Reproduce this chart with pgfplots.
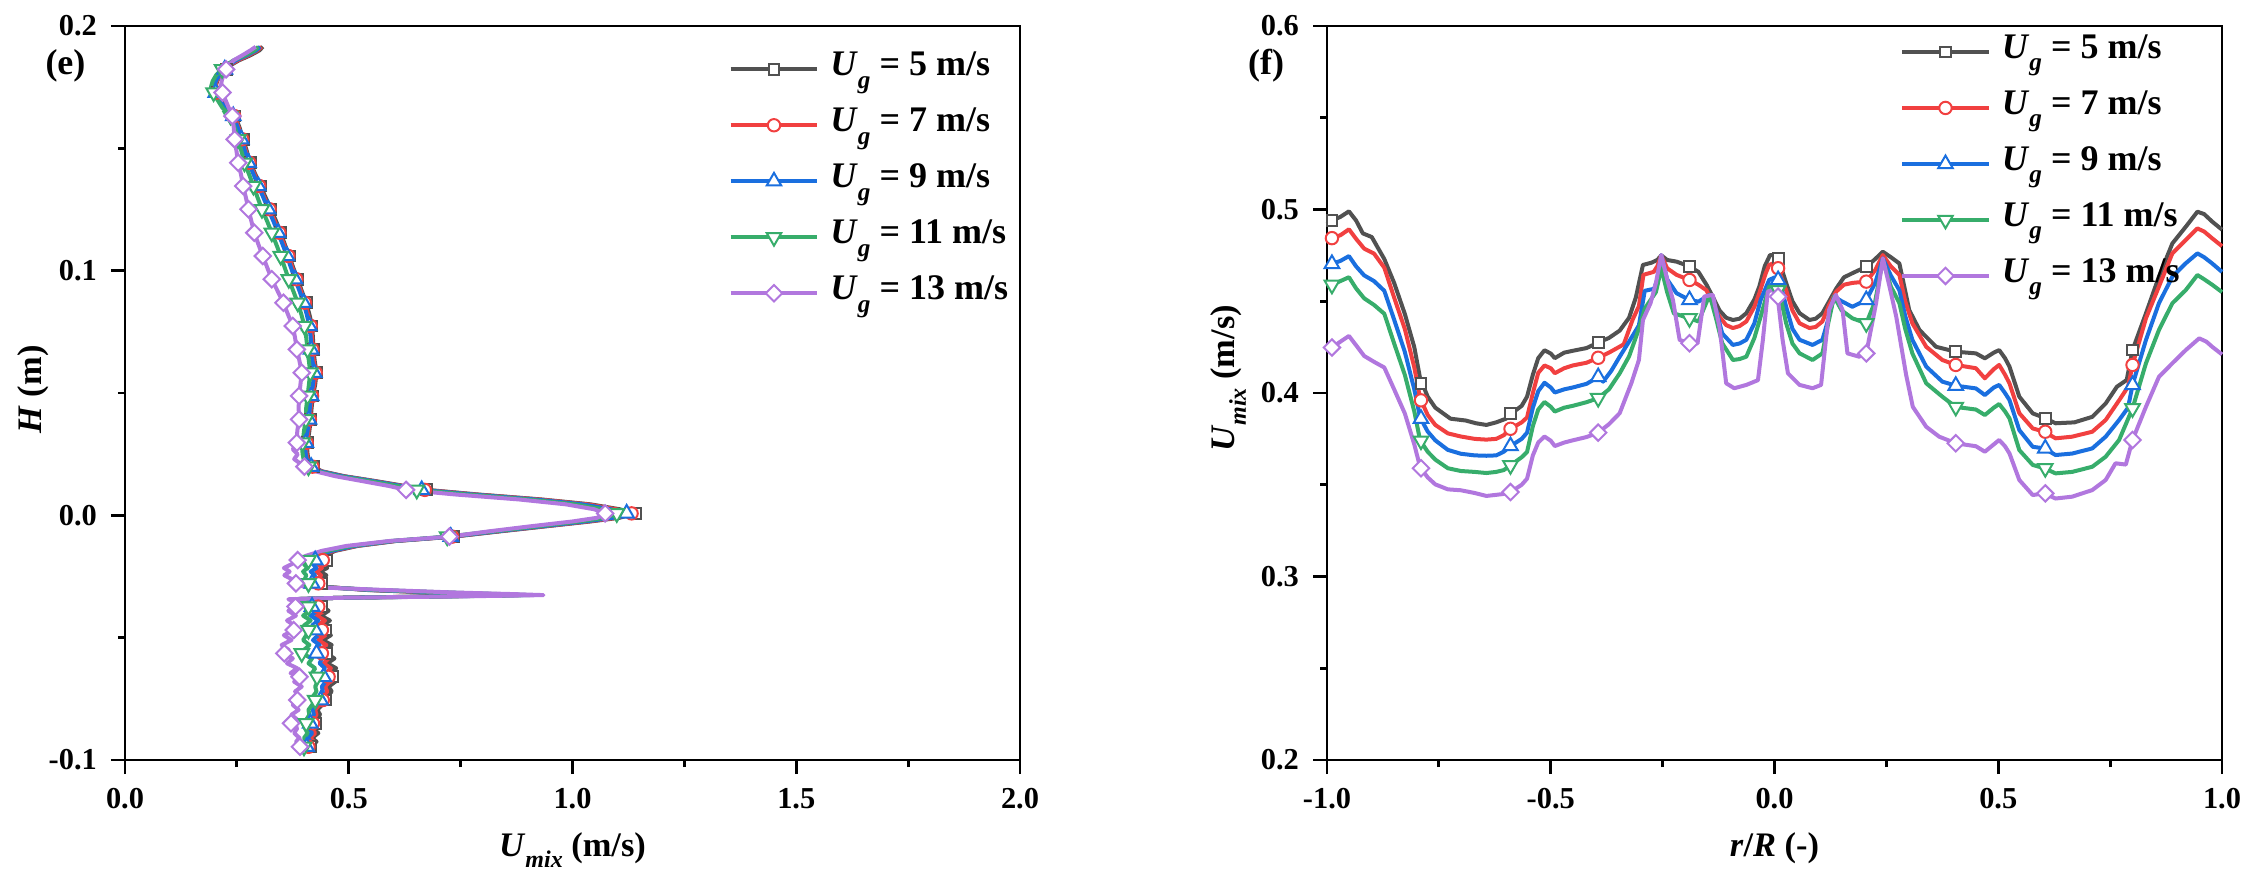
\documentclass[border=0pt]{standalone}
\usepackage{fontspec}
\setmainfont{Liberation Serif}
\usepackage{pgfplots}
\usepackage{pgfplotstable}
\pgfplotsset{compat=1.18}
\definecolor{c5}{HTML}{515151}
\definecolor{c7}{HTML}{F14040}
\definecolor{c9}{HTML}{1A6FDF}
\definecolor{c11}{HTML}{37AD6B}
\definecolor{c13}{HTML}{B177DE}
\newcommand\subL[1]{\raisebox{-3.1pt}{\fontsize{6.3pt}{6.3pt}\selectfont\textit{#1}}}
\newcommand\subA[1]{\raisebox{-2.9pt}{\fontsize{6.0pt}{6.0pt}\selectfont\textit{#1}}}

\pgfplotstableread{
H u5 u7 u9 u11 u13 m
0.1915 0.308 0.305 0.302 0.298 0.292 0
0.1900 0.300 0.296 0.293 0.289 0.280 0
0.1880 0.280 0.276 0.272 0.268 0.262 0
0.1860 0.255 0.252 0.248 0.243 0.243 0
0.1840 0.236 0.234 0.232 0.226 0.232 0
0.1823 0.226 0.225 0.223 0.217 0.226 1
0.1800 0.214 0.213 0.211 0.204 0.220 0
0.1775 0.206 0.205 0.203 0.196 0.216 0
0.1750 0.202 0.201 0.199 0.192 0.214 0
0.1728 0.206 0.205 0.203 0.198 0.218 1
0.1700 0.214 0.213 0.211 0.206 0.224 0
0.1665 0.227 0.226 0.224 0.218 0.232 0
0.1632 0.246 0.244 0.242 0.236 0.240 1
0.1585 0.256 0.254 0.252 0.245 0.243 0
0.1537 0.264 0.262 0.260 0.253 0.245 1
0.1490 0.272 0.270 0.268 0.260 0.249 0
0.1441 0.280 0.278 0.276 0.267 0.253 1
0.1395 0.291 0.289 0.287 0.277 0.259 0
0.1346 0.303 0.300 0.298 0.287 0.264 1
0.1300 0.314 0.311 0.309 0.296 0.270 0
0.1251 0.326 0.323 0.320 0.306 0.276 1
0.1205 0.337 0.334 0.331 0.317 0.282 0
0.1155 0.348 0.345 0.342 0.328 0.289 1
0.1108 0.357 0.355 0.352 0.338 0.298 0
0.1060 0.367 0.365 0.362 0.348 0.308 1
0.1012 0.376 0.374 0.371 0.357 0.318 0
0.0965 0.386 0.383 0.380 0.366 0.328 1
0.0917 0.395 0.393 0.390 0.376 0.341 0
0.0869 0.405 0.402 0.399 0.386 0.354 1
0.0822 0.412 0.409 0.406 0.394 0.364 0
0.0774 0.418 0.415 0.412 0.401 0.375 1
0.0726 0.420 0.418 0.415 0.405 0.380 0
0.0678 0.421 0.419 0.416 0.408 0.384 1
0.0630 0.424 0.422 0.419 0.411 0.390 0
0.0583 0.428 0.426 0.423 0.414 0.395 1
0.0535 0.425 0.423 0.420 0.411 0.392 0
0.0488 0.420 0.418 0.416 0.408 0.389 1
0.0440 0.417 0.415 0.413 0.405 0.388 0
0.0392 0.415 0.413 0.411 0.404 0.389 1
0.0345 0.412 0.410 0.408 0.400 0.385 0
0.0297 0.408 0.406 0.404 0.397 0.384 1
0.0270 0.407 0.405 0.403 0.396 0.375 0
0.0250 0.408 0.406 0.404 0.397 0.386 0
0.0230 0.410 0.408 0.406 0.399 0.378 0
0.0199 0.421 0.419 0.416 0.410 0.401 1
0.0180 0.440 0.438 0.436 0.430 0.425 0
0.0160 0.490 0.487 0.485 0.478 0.470 0
0.0140 0.560 0.556 0.553 0.545 0.530 0
0.0120 0.625 0.621 0.617 0.608 0.590 0
0.0104 0.674 0.670 0.663 0.652 0.628 1
0.0085 0.790 0.785 0.778 0.765 0.740 0
0.0065 0.930 0.925 0.915 0.900 0.880 0
0.0045 1.040 1.033 1.022 1.005 0.985 0
0.0025 1.105 1.097 1.085 1.068 1.048 0
0.0008 1.140 1.132 1.121 1.099 1.073 1
-0.0010 1.105 1.098 1.090 1.075 1.055 0
-0.0025 1.040 1.035 1.028 1.015 1.000 0
-0.0045 0.940 0.935 0.930 0.920 0.905 0
-0.0065 0.840 0.836 0.832 0.825 0.815 0
-0.0087 0.734 0.731 0.728 0.720 0.725 1
-0.0105 0.605 0.602 0.599 0.594 0.590 0
-0.0125 0.520 0.517 0.513 0.505 0.495 0
-0.0145 0.470 0.466 0.462 0.452 0.440 0
-0.0165 0.445 0.440 0.434 0.422 0.405 0
-0.0183 0.450 0.442 0.425 0.410 0.386 1
-0.0200 0.440 0.432 0.420 0.400 0.372 0
-0.0215 0.452 0.440 0.428 0.408 0.355 0
-0.0230 0.436 0.428 0.415 0.398 0.368 0
-0.0245 0.450 0.438 0.425 0.405 0.356 0
-0.0260 0.440 0.430 0.420 0.402 0.372 0
-0.0278 0.440 0.432 0.418 0.410 0.382 1
-0.0292 0.445 0.440 0.432 0.425 0.400 0
-0.0305 0.540 0.545 0.550 0.560 0.580 0
-0.0315 0.680 0.690 0.700 0.715 0.730 0
-0.0322 0.800 0.810 0.820 0.840 0.870 0
-0.0326 0.870 0.880 0.890 0.905 0.935 0
-0.0331 0.700 0.710 0.720 0.735 0.760 0
-0.0337 0.480 0.480 0.480 0.480 0.480 0
-0.0343 0.375 0.372 0.370 0.368 0.365 0
-0.0355 0.430 0.420 0.415 0.405 0.385 0
-0.0373 0.440 0.432 0.418 0.410 0.381 1
-0.0390 0.455 0.445 0.430 0.412 0.365 0
-0.0410 0.438 0.428 0.415 0.398 0.382 0
-0.0430 0.458 0.447 0.432 0.415 0.362 0
-0.0450 0.440 0.430 0.418 0.400 0.378 0
-0.0469 0.449 0.440 0.425 0.410 0.377 1
-0.0490 0.460 0.448 0.432 0.405 0.355 0
-0.0510 0.442 0.432 0.420 0.398 0.372 0
-0.0530 0.462 0.450 0.435 0.412 0.350 0
-0.0550 0.445 0.436 0.425 0.400 0.366 0
-0.0564 0.450 0.440 0.428 0.395 0.356 1
-0.0585 0.468 0.455 0.440 0.418 0.375 0
-0.0605 0.452 0.444 0.435 0.410 0.362 0
-0.0625 0.472 0.460 0.447 0.425 0.385 0
-0.0645 0.458 0.450 0.440 0.418 0.370 0
-0.0660 0.464 0.455 0.444 0.429 0.390 1
-0.0680 0.470 0.458 0.448 0.430 0.378 0
-0.0700 0.455 0.447 0.440 0.425 0.395 0
-0.0720 0.462 0.452 0.442 0.428 0.380 0
-0.0740 0.450 0.443 0.437 0.420 0.392 0
-0.0755 0.449 0.442 0.437 0.425 0.385 1
-0.0775 0.440 0.434 0.428 0.418 0.375 0
-0.0795 0.430 0.425 0.420 0.410 0.388 0
-0.0815 0.436 0.428 0.422 0.412 0.372 0
-0.0835 0.425 0.420 0.415 0.405 0.385 0
-0.0850 0.425 0.420 0.414 0.405 0.371 1
-0.0870 0.420 0.416 0.410 0.402 0.385 0
-0.0890 0.432 0.425 0.418 0.408 0.378 0
-0.0910 0.418 0.414 0.408 0.400 0.390 0
-0.0925 0.428 0.422 0.415 0.405 0.382 0
-0.0946 0.414 0.410 0.406 0.400 0.391 1
-0.0955 0.410 0.407 0.403 0.398 0.392 0
}\tabL

\pgfplotstableread{
r U
-1.000 0.492
-0.989 0.494
-0.970 0.496
-0.951 0.499
-0.935 0.494
-0.920 0.487
-0.900 0.485
-0.872 0.473
-0.850 0.460
-0.826 0.443
-0.805 0.425
-0.792 0.408
-0.775 0.398
-0.758 0.392
-0.724 0.386
-0.690 0.385
-0.667 0.3835
-0.644 0.3826
-0.622 0.384
-0.600 0.386
-0.587 0.389
-0.565 0.393
-0.553 0.398
-0.540 0.410
-0.528 0.419
-0.514 0.4233
-0.500 0.4215
-0.491 0.419
-0.470 0.422
-0.451 0.423
-0.420 0.4245
-0.394 0.4275
-0.370 0.430
-0.346 0.434
-0.325 0.441
-0.310 0.452
-0.294 0.4698
-0.275 0.471
-0.262 0.4725
-0.253 0.475
-0.240 0.4725
-0.219 0.4716
-0.190 0.469
-0.170 0.466
-0.152 0.459
-0.137 0.452
-0.123 0.445
-0.108 0.441
-0.093 0.4398
-0.078 0.4405
-0.063 0.4435
-0.045 0.451
-0.034 0.458
-0.022 0.469
-0.010 0.4752
0.000 0.4752
0.010 0.4725
0.018 0.466
0.026 0.460
0.040 0.450
0.056 0.4435
0.078 0.4398
0.092 0.4405
0.107 0.4435
0.122 0.450
0.138 0.457
0.155 0.463
0.174 0.4653
0.205 0.4688
0.225 0.473
0.242 0.477
0.260 0.474
0.279 0.4706
0.290 0.458
0.301 0.4452
0.324 0.4343
0.361 0.4252
0.405 0.4225
0.450 0.4216
0.470 0.4189
0.490 0.422
0.502 0.4234
0.515 0.419
0.525 0.4144
0.547 0.398
0.577 0.3889
0.606 0.3862
0.628 0.3835
0.670 0.384
0.710 0.387
0.740 0.3943
0.765 0.4034
0.787 0.4071
0.800 0.4234
0.830 0.4434
0.859 0.4634
0.889 0.4815
0.919 0.4906
0.945 0.4988
0.960 0.4975
0.978 0.4934
1.000 0.489
}\tabRa

\pgfplotstableread{
r U
-1.000 0.483
-0.989 0.4844
-0.970 0.486
-0.951 0.4892
-0.935 0.484
-0.917 0.4787
-0.895 0.476
-0.872 0.4683
-0.850 0.452
-0.826 0.4348
-0.805 0.414
-0.792 0.3972
-0.775 0.388
-0.758 0.3826
-0.730 0.378
-0.701 0.3763
-0.670 0.375
-0.644 0.3746
-0.622 0.375
-0.605 0.377
-0.590 0.3805
-0.565 0.384
-0.553 0.3867
-0.540 0.400
-0.528 0.411
-0.514 0.415
-0.500 0.4135
-0.491 0.4108
-0.470 0.4135
-0.451 0.415
-0.420 0.4165
-0.394 0.4192
-0.370 0.422
-0.337 0.4265
-0.317 0.440
-0.303 0.4474
-0.293 0.4644
-0.270 0.466
-0.262 0.469
-0.253 0.475
-0.240 0.468
-0.219 0.4644
-0.190 0.4616
-0.170 0.459
-0.152 0.456
-0.137 0.448
-0.123 0.4416
-0.108 0.437
-0.093 0.4354
-0.078 0.4365
-0.063 0.439
-0.045 0.447
-0.034 0.4544
-0.020 0.465
-0.012 0.4698
-0.002 0.4707
0.008 0.468
0.018 0.461
0.026 0.456
0.040 0.445
0.056 0.438
0.078 0.4354
0.092 0.436
0.107 0.439
0.122 0.448
0.138 0.4553
0.155 0.459
0.174 0.460
0.205 0.4607
0.225 0.467
0.242 0.4752
0.260 0.469
0.279 0.4644
0.292 0.450
0.308 0.438
0.339 0.4252
0.375 0.418
0.405 0.4153
0.450 0.4135
0.470 0.408
0.490 0.413
0.502 0.4153
0.515 0.410
0.525 0.4053
0.547 0.389
0.577 0.3807
0.603 0.3789
0.628 0.3753
0.665 0.3762
0.710 0.3789
0.740 0.3853
0.770 0.396
0.790 0.4034
0.800 0.4153
0.830 0.4407
0.859 0.458
0.889 0.4761
0.919 0.4834
0.945 0.4897
0.960 0.488
0.978 0.4843
1.000 0.480
}\tabRb

\pgfplotstableread{
r U
-1.000 0.469
-0.989 0.4704
-0.970 0.472
-0.951 0.4746
-0.935 0.469
-0.917 0.4641
-0.895 0.461
-0.872 0.4557
-0.850 0.440
-0.826 0.4223
-0.805 0.402
-0.792 0.3867
-0.775 0.379
-0.758 0.3742
-0.730 0.369
-0.701 0.3669
-0.670 0.366
-0.644 0.3658
-0.622 0.366
-0.605 0.368
-0.590 0.3711
-0.565 0.375
-0.553 0.3784
-0.540 0.392
-0.528 0.401
-0.514 0.4056
-0.500 0.403
-0.491 0.4003
-0.470 0.402
-0.451 0.403
-0.420 0.405
-0.394 0.4087
-0.383 0.4062
-0.365 0.412
-0.346 0.4198
-0.325 0.428
-0.303 0.4369
-0.290 0.4557
-0.269 0.4568
-0.262 0.462
-0.253 0.4752
-0.240 0.462
-0.219 0.4544
-0.190 0.4507
-0.170 0.4498
-0.145 0.4535
-0.130 0.445
-0.117 0.4325
-0.093 0.4262
-0.078 0.427
-0.063 0.429
-0.045 0.438
-0.031 0.4507
-0.012 0.4616
0.000 0.463
0.010 0.4616
0.018 0.455
0.026 0.447
0.040 0.435
0.056 0.429
0.085 0.4262
0.107 0.429
0.120 0.440
0.133 0.4526
0.150 0.450
0.174 0.447
0.205 0.4507
0.225 0.460
0.242 0.4734
0.260 0.464
0.279 0.456
0.292 0.442
0.308 0.429
0.339 0.4144
0.375 0.4062
0.405 0.404
0.450 0.4025
0.470 0.3989
0.490 0.403
0.502 0.4044
0.515 0.400
0.525 0.3962
0.547 0.3798
0.577 0.3707
0.603 0.3698
0.628 0.3662
0.665 0.367
0.710 0.3698
0.740 0.3762
0.770 0.3853
0.790 0.392
0.800 0.4044
0.830 0.4289
0.859 0.4489
0.889 0.4634
0.919 0.4707
0.945 0.4761
0.960 0.474
0.978 0.4706
1.000 0.466
}\tabRc

\pgfplotstableread{
r U
-1.000 0.458
-0.989 0.4589
-0.970 0.461
-0.951 0.4631
-0.935 0.457
-0.917 0.4516
-0.895 0.448
-0.872 0.4432
-0.850 0.427
-0.826 0.4098
-0.805 0.390
-0.792 0.3742
-0.775 0.368
-0.758 0.3637
-0.730 0.359
-0.701 0.3575
-0.670 0.357
-0.644 0.3564
-0.622 0.357
-0.605 0.358
-0.590 0.3606
-0.565 0.365
-0.553 0.3679
-0.540 0.382
-0.528 0.391
-0.514 0.3951
-0.500 0.3925
-0.491 0.3899
-0.470 0.392
-0.451 0.393
-0.420 0.395
-0.394 0.3972
-0.370 0.402
-0.346 0.4107
-0.325 0.420
-0.303 0.435
-0.290 0.446
-0.277 0.4507
-0.265 0.455
-0.253 0.468
-0.240 0.455
-0.225 0.4434
-0.190 0.4407
-0.170 0.439
-0.145 0.4535
-0.130 0.440
-0.117 0.4272
-0.093 0.418
-0.078 0.4185
-0.063 0.4198
-0.045 0.430
-0.031 0.4416
-0.012 0.458
0.000 0.459
0.010 0.456
0.018 0.447
0.026 0.438
0.040 0.427
0.056 0.4216
0.085 0.418
0.107 0.4216
0.120 0.438
0.133 0.4526
0.150 0.445
0.174 0.4407
0.205 0.438
0.225 0.450
0.242 0.4725
0.260 0.458
0.279 0.449
0.292 0.435
0.308 0.4216
0.339 0.4053
0.375 0.398
0.405 0.3924
0.450 0.391
0.470 0.388
0.490 0.392
0.502 0.394
0.515 0.390
0.525 0.3862
0.547 0.3689
0.577 0.3608
0.603 0.359
0.628 0.3562
0.665 0.357
0.710 0.3598
0.740 0.3653
0.770 0.3744
0.800 0.3916
0.830 0.4162
0.859 0.4343
0.889 0.4489
0.919 0.4561
0.945 0.4643
0.960 0.462
0.978 0.459
1.000 0.455
}\tabRd

\pgfplotstableread{
r U
-1.000 0.424
-0.989 0.4248
-0.970 0.428
-0.951 0.4311
-0.935 0.426
-0.917 0.4202
-0.895 0.417
-0.872 0.4139
-0.850 0.402
-0.826 0.3888
-0.805 0.372
-0.792 0.3596
-0.775 0.354
-0.758 0.3502
-0.730 0.3475
-0.701 0.347
-0.670 0.3455
-0.644 0.3439
-0.622 0.3445
-0.605 0.345
-0.590 0.346
-0.565 0.350
-0.553 0.3533
-0.540 0.366
-0.528 0.373
-0.514 0.3763
-0.500 0.374
-0.491 0.3711
-0.470 0.373
-0.451 0.3742
-0.420 0.376
-0.394 0.3784
-0.370 0.383
-0.346 0.389
-0.320 0.4053
-0.303 0.418
-0.294 0.4398
-0.277 0.449
-0.265 0.460
-0.253 0.4752
-0.240 0.462
-0.227 0.4507
-0.212 0.4289
-0.190 0.4271
-0.172 0.427
-0.157 0.4526
-0.138 0.4535
-0.123 0.436
-0.108 0.4053
-0.090 0.4026
-0.063 0.4044
-0.037 0.407
-0.026 0.429
-0.015 0.4553
-0.004 0.4562
0.007 0.4525
0.018 0.429
0.030 0.4107
0.056 0.4044
0.085 0.4026
0.104 0.4044
0.122 0.4453
0.137 0.4535
0.152 0.4453
0.163 0.4216
0.189 0.4198
0.205 0.4216
0.227 0.449
0.242 0.4734
0.257 0.458
0.272 0.4416
0.294 0.410
0.309 0.3925
0.339 0.3816
0.368 0.3762
0.405 0.3726
0.450 0.371
0.470 0.368
0.490 0.372
0.502 0.3744
0.515 0.371
0.525 0.3671
0.547 0.3526
0.577 0.3444
0.603 0.3453
0.628 0.3425
0.665 0.3435
0.710 0.3471
0.740 0.3526
0.762 0.3617
0.785 0.361
0.800 0.3744
0.830 0.3925
0.859 0.4088
0.889 0.4162
0.919 0.4234
0.949 0.4298
0.965 0.428
0.978 0.4252
1.000 0.421
}\tabRe

\pgfplotstableread{
r u5 u7 u9 u11 u13
-0.989 0.494 0.4844 0.4704 0.4589 0.4248
-0.790 0.405 0.396 0.386 0.374 0.359
-0.590 0.389 0.3805 0.3711 0.3606 0.346
-0.394 0.4275 0.4192 0.4087 0.3972 0.3784
-0.190 0.469 0.4616 0.4507 0.4407 0.4271
0.008 0.4735 0.468 0.4616 0.456 0.4525
0.205 0.4688 0.4607 0.4507 0.438 0.4216
0.405 0.4225 0.4153 0.404 0.3924 0.3726
0.605 0.3862 0.3789 0.3698 0.359 0.3453
0.800 0.4234 0.4153 0.4044 0.3916 0.3744
}\tabRm

\pgfplotsset{
  every axis/.append style={
    width=223.75pt, height=183.5pt, scale only axis, clip=false,
    tick align=outside, xtick pos=left, ytick pos=left,
    minor x tick num=1, minor y tick num=1,
    major tick length=3.5pt, minor tick length=1.75pt,
    axis line style={line width=0.7pt, black},
    every tick/.style={line width=0.7pt, black},
    tick label style={font=\fontsize{7.6pt}{9pt}\selectfont\bfseries},
    label style={font=\fontsize{8.6pt}{10pt}\selectfont\bfseries},
    /pgf/number format/.cd, fixed, fixed zerofill, precision=1, assume math mode=true, /pgfplots/.cd,
    legend cell align=left,
    legend image code/.code={\draw[mark repeat=2,mark phase=2,#1] plot coordinates {(0pt,0pt) (10.85pt,0pt) (21.7pt,0pt)};},
  },
  sA/.style={c5, line width=1pt, mark=square*, mark size=1.35pt, mark options={fill=white, line width=0.5pt, solid}},
  sB/.style={c7, line width=1pt, mark=*, mark size=1.55pt, mark options={fill=white, line width=0.5pt, solid}},
  sC/.style={c9, line width=1pt, mark=triangle*, mark size=2.1pt, mark options={fill=white, line width=0.5pt, solid}},
  sD/.style={c11, line width=1pt, mark=triangle*, mark size=2.1pt, mark options={fill=white, line width=0.5pt, solid, rotate=180}},
  sE/.style={c13, line width=1pt, mark=square*, mark size=1.45pt, mark options={fill=white, line width=0.5pt, solid, rotate=45}},
  lin/.style={#1, line width=1pt, no markers, forget plot, line join=round},
  mk/.style={#1, only marks, forget plot},
}

\begin{document}
\begin{tikzpicture}
\useasboundingbox (-31.25pt,-29.75pt) rectangle (532.75pt,190pt);
% ---------------- left panel (e)
\begin{axis}[
  at={(0pt,0pt)}, anchor=south west,
  xmin=0, xmax=2, ymin=-0.1, ymax=0.2,
  xtick={0,0.5,1,1.5,2}, ytick={-0.1,0,0.1,0.2},
  xlabel={\textit{U}\subA{mix} (m/s)},
  ylabel={\textit{H} (m)},
  xlabel style={at={(axis description cs:0.5,-0.1308)}, anchor=base},
  ylabel style={at={(axis description cs:-0.1028,0.505)}, anchor=center},
  legend style={draw=none, fill=none, at={(0.6744,0.9683)}, anchor=north west,
    inner sep=0pt, outer sep=0pt, row sep=4pt, column sep=2.75pt,
    font=\fontsize{9pt}{10pt}\selectfont\bfseries,
    nodes={inner sep=0pt, text height=6.6pt, text depth=3.4pt}},
]
\addlegendimage{sA}\addlegendentry{\textit{U}\subL{g} = 5 m/s}
\addlegendimage{sB}\addlegendentry{\textit{U}\subL{g} = 7 m/s}
\addlegendimage{sC}\addlegendentry{\textit{U}\subL{g} = 9 m/s}
\addlegendimage{sD}\addlegendentry{\textit{U}\subL{g} = 11 m/s}
\addlegendimage{sE}\addlegendentry{\textit{U}\subL{g} = 13 m/s}
\addplot[lin=c5] table[x=u5,y=H] {\tabL};
\addplot[mk=sA, restrict expr to domain={\thisrow{m}}{0.5:1.5}] table[x=u5,y=H] {\tabL};
\addplot[lin=c7] table[x=u7,y=H] {\tabL};
\addplot[mk=sB, restrict expr to domain={\thisrow{m}}{0.5:1.5}] table[x=u7,y=H] {\tabL};
\addplot[lin=c9] table[x=u9,y=H] {\tabL};
\addplot[mk=sC, restrict expr to domain={\thisrow{m}}{0.5:1.5}] table[x=u9,y=H] {\tabL};
\addplot[lin=c11] table[x=u11,y=H] {\tabL};
\addplot[mk=sD, restrict expr to domain={\thisrow{m}}{0.5:1.5}] table[x=u11,y=H] {\tabL};
\addplot[lin=c13] table[x=u13,y=H] {\tabL};
\addplot[mk=sE, restrict expr to domain={\thisrow{m}}{0.5:1.5}] table[x=u13,y=H] {\tabL};
\node[font=\fontsize{9pt}{10pt}\selectfont\bfseries] at (rel axis cs:-0.0665,0.9455) {(e)};
\end{axis}
% ---------------- right panel (f)
\begin{axis}[
  at={(300.5pt,0pt)}, anchor=south west,
  xmin=-1, xmax=1, ymin=0.2, ymax=0.6,
  xtick={-1,-0.5,0,0.5,1}, ytick={0.2,0.3,0.4,0.5,0.6},
  xlabel={\textit{r}/\textit{R} (-)},
  ylabel={\textit{U}\subA{mix} (m/s)},
  xlabel style={at={(axis description cs:0.5,-0.1308)}, anchor=base},
  ylabel style={at={(axis description cs:-0.1105,0.52)}, anchor=center},
  legend style={draw=none, fill=none, at={(0.6403,0.9919)}, anchor=north west,
    inner sep=0pt, outer sep=0pt, row sep=4pt, column sep=2.75pt,
    font=\fontsize{9pt}{10pt}\selectfont\bfseries,
    nodes={inner sep=0pt, text height=6.6pt, text depth=3.4pt}},
]
\addlegendimage{sA}\addlegendentry{\textit{U}\subL{g} = 5 m/s}
\addlegendimage{sB}\addlegendentry{\textit{U}\subL{g} = 7 m/s}
\addlegendimage{sC}\addlegendentry{\textit{U}\subL{g} = 9 m/s}
\addlegendimage{sD}\addlegendentry{\textit{U}\subL{g} = 11 m/s}
\addlegendimage{sE}\addlegendentry{\textit{U}\subL{g} = 13 m/s}
\addplot[lin=c5] table[x=r,y=U] {\tabRa};
\addplot[mk=sA] table[x=r,y=u5] {\tabRm};
\addplot[lin=c7] table[x=r,y=U] {\tabRb};
\addplot[mk=sB] table[x=r,y=u7] {\tabRm};
\addplot[lin=c9] table[x=r,y=U] {\tabRc};
\addplot[mk=sC] table[x=r,y=u9] {\tabRm};
\addplot[lin=c11] table[x=r,y=U] {\tabRd};
\addplot[mk=sD] table[x=r,y=u11] {\tabRm};
\addplot[lin=c13] table[x=r,y=U] {\tabRe};
\addplot[mk=sE] table[x=r,y=u13] {\tabRm};
\node[font=\fontsize{9pt}{10pt}\selectfont\bfseries] at (rel axis cs:-0.068,0.9455) {(f)};
\end{axis}
\end{tikzpicture}
\end{document}
